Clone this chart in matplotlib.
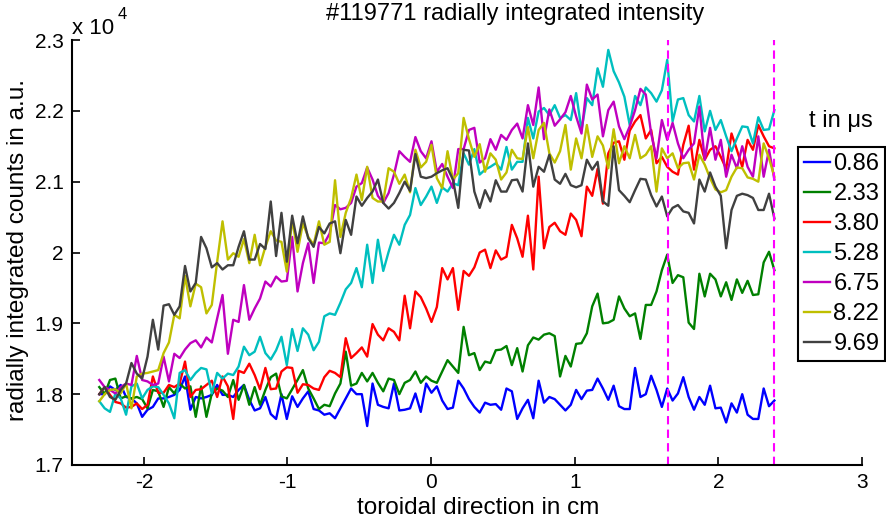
import matplotlib
matplotlib.use('Agg')
import matplotlib.pyplot as plt
import numpy as np

plt.rcParams['font.family'] = ['Liberation Sans', 'DejaVu Sans']
plt.rcParams['axes.unicode_minus'] = False

# toroidal sample positions (cm)
x_start, x_end, n_pts = -2.31, 2.39, 127
# values in units of 1e4 counts
times = ['0.86', '2.33', '3.80', '5.28', '6.75', '8.22', '9.69']
colors = ['#0000ff', '#008000', '#ff0000', '#00bfbf', '#bf00bf', '#bfbf00', '#404040']

t086 = [1.800, 1.800,
        1.811, 1.806, 1.813, 1.796, 1.794, 1.787, 1.768, 1.778, 1.782, 1.794, 1.794, 1.796, 1.799,
        1.806, 1.825, 1.778, 1.796, 1.794, 1.796, 1.799, 1.813, 1.799, 1.799, 1.796, 1.806, 1.813,
        1.792, 1.777, 1.780, 1.796, 1.772, 1.765, 1.800, 1.765, 1.797, 1.782, 1.794, 1.804, 1.779,
        1.777, 1.771, 1.773, 1.766, 1.780, 1.794, 1.808, 1.800, 1.800, 1.755, 1.815, 1.785,
        1.782, 1.780, 1.815, 1.777, 1.778, 1.780, 1.801, 1.775, 1.815, 1.802, 1.811, 1.791, 1.779,
        1.781, 1.819, 1.808, 1.793, 1.782, 1.774, 1.788, 1.785, 1.786, 1.778, 1.808, 1.804,
        1.765, 1.780, 1.792, 1.766, 1.819, 1.788, 1.796, 1.793, 1.785, 1.777, 1.785, 1.806, 1.793,
        1.805, 1.806, 1.822, 1.808, 1.792, 1.812, 1.783, 1.779, 1.779, 1.837, 1.796, 1.800,
        1.826, 1.806, 1.782, 1.808, 1.791, 1.801, 1.824, 1.796, 1.778, 1.796, 1.785, 1.812, 1.780,
        1.781, 1.760, 1.787, 1.774, 1.800, 1.771, 1.765, 1.765, 1.808, 1.783, 1.791]

t233 = [1.810, 1.800,
        1.820, 1.822, 1.794, 1.797, 1.794, 1.796, 1.793, 1.780, 1.806, 1.804, 1.782, 1.810, 1.801,
        1.815, 1.808, 1.811, 1.768, 1.811, 1.768, 1.801, 1.808, 1.805, 1.796, 1.820, 1.792, 1.813,
        1.785, 1.810, 1.785, 1.806, 1.824, 1.829, 1.797, 1.794, 1.807, 1.820, 1.834, 1.808, 1.794,
        1.779, 1.785, 1.783, 1.801, 1.815, 1.860, 1.812, 1.815, 1.830, 1.818, 1.830, 1.816,
        1.804, 1.822, 1.820, 1.800, 1.816, 1.820, 1.832, 1.816, 1.825, 1.819, 1.816, 1.832, 1.848,
        1.839, 1.830, 1.895, 1.855, 1.858, 1.834, 1.846, 1.844, 1.862, 1.863, 1.868, 1.841,
        1.865, 1.832, 1.869, 1.880, 1.877, 1.884, 1.886, 1.882, 1.825, 1.854, 1.839, 1.871, 1.872,
        1.886, 1.924, 1.942, 1.900, 1.901, 1.905, 1.938, 1.921, 1.910, 1.914, 1.878, 1.926,
        1.926, 1.945, 1.975, 1.997, 1.957, 1.968, 1.965, 1.901, 1.892, 1.970, 1.938, 1.970, 1.962,
        1.938, 1.958, 1.933, 1.962, 1.943, 1.960, 1.940, 1.941, 1.986, 2.001, 1.975]

t380 = [1.800, 1.810,
        1.799, 1.789, 1.787, 1.781, 1.782, 1.787, 1.779, 1.785, 1.825, 1.802, 1.802, 1.813, 1.810,
        1.815, 1.846, 1.796, 1.806, 1.807, 1.813, 1.819, 1.796, 1.825, 1.811, 1.765, 1.833, 1.830,
        1.843, 1.827, 1.807, 1.837, 1.807, 1.808, 1.832, 1.838, 1.837, 1.802, 1.814, 1.813, 1.808,
        1.806, 1.824, 1.833, 1.830, 1.824, 1.879, 1.851, 1.858, 1.866, 1.853, 1.899, 1.884,
        1.876, 1.893, 1.888, 1.876, 1.939, 1.893, 1.945, 1.937, 1.921, 1.902, 1.923, 1.978, 1.962,
        1.978, 1.919, 1.974, 1.967, 1.979, 2.000, 2.004, 1.978, 2.003, 1.990, 1.994, 2.039,
        2.020, 1.994, 2.052, 1.976, 2.107, 2.006, 2.036, 2.042, 2.030, 2.025, 2.055, 2.046, 2.023,
        2.093, 2.080, 2.118, 2.069, 2.140, 2.155, 2.157, 2.131, 2.172, 2.185, 2.194, 2.161,
        2.173, 2.126, 2.135, 2.121, 2.114, 2.110, 2.152, 2.179, 2.117, 2.159, 2.131, 2.145, 2.150,
        2.135, 2.118, 2.168, 2.145, 2.121, 2.159, 2.145, 2.180, 2.164, 2.150, 2.147]

t528 = [1.790, 1.780,
        1.775, 1.801, 1.794, 1.771, 1.811, 1.815, 1.794, 1.806, 1.811, 1.810, 1.799, 1.787, 1.766,
        1.830, 1.834, 1.820, 1.830, 1.837, 1.835, 1.801, 1.830, 1.822, 1.829, 1.827, 1.839, 1.867,
        1.855, 1.860, 1.881, 1.858, 1.849, 1.862, 1.881, 1.841, 1.892, 1.861, 1.893, 1.884, 1.862,
        1.874, 1.910, 1.914, 1.912, 1.929, 1.948, 1.957, 1.978, 1.951, 2.011, 1.957, 2.018,
        1.974, 2.001, 2.025, 2.011, 2.039, 2.053, 2.091, 2.067, 2.079, 2.093, 2.070, 2.092, 2.086,
        2.098, 2.095, 2.140, 2.124, 2.146, 2.110, 2.117, 2.121, 2.126, 2.117, 2.149, 2.117,
        2.128, 2.128, 2.190, 2.161, 2.199, 2.204, 2.194, 2.208, 2.190, 2.194, 2.187, 2.225, 2.173,
        2.218, 2.208, 2.260, 2.234, 2.286, 2.256, 2.240, 2.220, 2.180, 2.221, 2.208, 2.233,
        2.225, 2.213, 2.229, 2.272, 2.185, 2.216, 2.218, 2.194, 2.185, 2.221, 2.171, 2.200, 2.173,
        2.187, 2.164, 2.143, 2.161, 2.178, 2.177, 2.154, 2.191, 2.173, 2.174, 2.201]

t675 = [1.820, 1.810,
        1.806, 1.801, 1.810, 1.815, 1.813, 1.854, 1.820, 1.818, 1.813, 1.815, 1.853, 1.818, 1.857,
        1.851, 1.863, 1.872, 1.876, 1.866, 1.880, 1.873, 1.907, 1.940, 1.857, 1.905, 1.902, 1.954,
        1.905, 1.921, 1.935, 1.959, 1.952, 1.966, 1.959, 1.960, 2.022, 1.945, 1.985, 2.013, 1.957,
        2.014, 2.013, 2.027, 2.067, 2.061, 2.063, 2.070, 2.093, 2.098, 2.120, 2.103, 2.080,
        2.070, 2.084, 2.110, 2.143, 2.135, 2.128, 2.163, 2.143, 2.133, 2.157, 2.114, 2.125, 2.107,
        2.091, 2.146, 2.146, 2.173, 2.176, 2.127, 2.133, 2.160, 2.145, 2.166, 2.159, 2.173,
        2.182, 2.161, 2.208, 2.180, 2.233, 2.160, 2.202, 2.179, 2.188, 2.198, 2.221, 2.192, 2.168,
        2.237, 2.216, 2.223, 2.164, 2.201, 2.213, 2.178, 2.160, 2.178, 2.201, 2.231, 2.223,
        2.168, 2.133, 2.187, 2.159, 2.183, 2.154, 2.133, 2.145, 2.154, 2.206, 2.131, 2.176, 2.131,
        2.159, 2.107, 2.138, 2.119, 2.150, 2.121, 2.107, 2.164, 2.107, 2.145, 2.103]

t822 = [1.790, 1.800,
        1.806, 1.807, 1.801, 1.815, 1.780, 1.825, 1.829, 1.830, 1.832, 1.834, 1.858, 1.873, 1.912,
        1.907, 1.967, 1.924, 1.956, 1.951, 1.914, 1.926, 1.987, 2.044, 1.990, 1.999, 1.994, 2.019,
        1.985, 2.025, 1.982, 2.008, 2.030, 2.017, 2.015, 1.973, 2.047, 2.001, 2.041, 2.022, 2.011,
        2.044, 2.011, 2.015, 2.102, 2.022, 2.056, 2.077, 2.110, 2.074, 2.121, 2.077, 2.072,
        2.072, 2.119, 2.114, 2.097, 2.110, 2.085, 2.145, 2.120, 2.128, 2.152, 2.105, 2.091, 2.143,
        2.103, 2.112, 2.190, 2.160, 2.135, 2.153, 2.114, 2.140, 2.131, 2.103, 2.113, 2.145,
        2.133, 2.132, 2.177, 2.133, 2.173, 2.183, 2.140, 2.127, 2.143, 2.180, 2.117, 2.161, 2.133,
        2.180, 2.135, 2.164, 2.151, 2.119, 2.174, 2.126, 2.150, 2.133, 2.166, 2.133, 2.138,
        2.150, 2.086, 2.147, 2.133, 2.140, 2.119, 2.126, 2.127, 2.103, 2.138, 2.124, 2.105, 2.089,
        2.085, 2.088, 2.107, 2.120, 2.119, 2.106, 2.104, 2.100, 2.154, 2.133, 2.107]

t969 = [1.800, 1.810,
        1.796, 1.792, 1.806, 1.815, 1.844, 1.829, 1.822, 1.853, 1.905, 1.863, 1.925, 1.927, 1.912,
        1.924, 1.981, 1.945, 1.957, 2.022, 2.006, 1.979, 1.985, 1.976, 1.982, 1.982, 2.008, 2.030,
        1.990, 1.990, 2.012, 2.005, 2.072, 1.995, 2.056, 1.987, 2.052, 2.013, 2.051, 2.020, 2.008,
        2.036, 2.027, 2.041, 2.044, 1.999, 2.046, 2.025, 2.079, 2.066, 2.077, 2.086, 2.103,
        2.070, 2.062, 2.070, 2.084, 2.100, 2.087, 2.139, 2.107, 2.105, 2.107, 2.112, 2.116, 2.119,
        2.103, 2.063, 2.145, 2.144, 2.086, 2.063, 2.088, 2.072, 2.102, 2.086, 2.086, 2.102,
        2.103, 2.086, 2.154, 2.093, 2.121, 2.114, 2.138, 2.103, 2.097, 2.111, 2.095, 2.092, 2.095,
        2.131, 2.117, 2.128, 2.072, 2.066, 2.150, 2.088, 2.080, 2.071, 2.088, 2.104, 2.103,
        2.081, 2.065, 2.079, 2.051, 2.063, 2.067, 2.058, 2.056, 2.041, 2.103, 2.086, 2.113, 2.093,
        2.080, 2.006, 2.060, 2.080, 2.083, 2.081, 2.077, 2.060, 2.060, 2.083, 2.048]

series = [t086, t233, t380, t528, t675, t822, t969]
window_x = [1.65, 2.39]   # dashed magenta markers

x = np.linspace(x_start, x_end, n_pts)

fig = plt.figure(figsize=(8.86, 5.23), dpi=100)
W, H = 886, 523
ax = fig.add_axes([72 / W, 58 / H, 790 / W, 425 / H])

lines = []
for vals, c, t in zip(series, colors, times):
    ln, = ax.plot(x, vals, color=c, lw=1.7, label=t)
    lines.append(ln)

for xv in window_x:
    ax.axvline(xv, color='#ff00ff', ls='--', lw=1.5, dashes=(4, 2.5))

ax.set_xlim(-2.5, 3)
ax.set_ylim(1.7, 2.3)
ax.set_xticks([-2, -1, 0, 1, 2, 3])
ax.set_xticklabels(['-2', '-1', '0', '1', '2', '3'])
ax.set_yticks([1.7, 1.8, 1.9, 2.0, 2.1, 2.2, 2.3])
ax.set_yticklabels(['1.7', '1.8', '1.9', '2', '2.1', '2.2', '2.3'])
for s in ['top', 'right']:
    ax.spines[s].set_visible(False)
for s in ['left', 'bottom']:
    ax.spines[s].set_linewidth(1.5)
ax.tick_params(direction='in', length=6, width=1.2, labelsize=15, pad=6)

fig.text(515 / W, 1 - 14 / H, '#119771 radially integrated intensity',
         ha='center', va='center', fontsize=17)
fig.text(478 / W, 1 - 508 / H, 'toroidal direction in cm',
         ha='center', va='center', fontsize=17.5)
fig.text(18 / W, 1 - 250 / H, 'radially integrated counts in a.u.',
         ha='center', va='center', rotation=90, fontsize=17.5)
fig.text(72 / W, 1 - 34 / H, 'x 10', ha='left', va='baseline', fontsize=16)
fig.text(118 / W, 1 - 19 / H, '4', ha='left', va='baseline', fontsize=12)

fig.text(841 / W, 1 - 121 / H, 't in \u03bcs', ha='center', va='center', fontsize=17)
leg = ax.legend(handles=lines, loc='upper left', bbox_to_anchor=(798 / W, 1 - 147 / H),
                bbox_transform=fig.transFigure, fancybox=False, framealpha=1,
                edgecolor='black', fontsize=17, handlelength=1.1, handletextpad=0.15,
                borderpad=0.25, labelspacing=0.34, borderaxespad=0)
leg.get_frame().set_linewidth(1.5)

fig.savefig('out.png', dpi=100)
